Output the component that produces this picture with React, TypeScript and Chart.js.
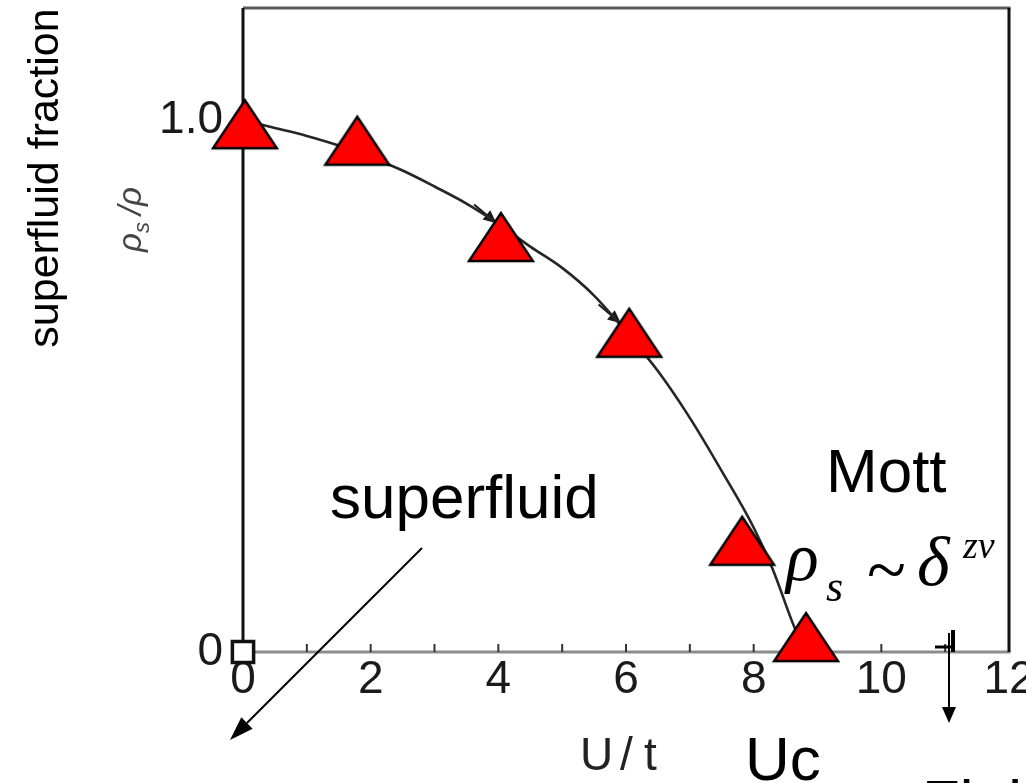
import React, { useEffect, useRef } from 'react';
import { Chart, registerables } from 'chart.js';

Chart.register(...registerables);

// U/t axis ticks and labels
const uTicks = [0, 1, 2, 3, 4, 5, 6, 7, 8, 9, 10, 11, 12];
const uTickLabels = ['0', '', '2', '', '4', '', '6', '', '8', '', '10', '', '12'];

// rho_s/rho axis ticks and labels
const rhoTicks = [0, 1];
const rhoTickLabels = ['0', '1.0'];

// Continuous curve of the superfluid fraction versus U/t
const curveU = [0, 0.5, 1, 1.5, 2, 2.5, 3, 3.5, 4, 4.5, 5, 5.5, 6, 6.5, 7, 7.5, 8, 8.3, 8.6, 8.8];
const curveRho = [1.0, 0.985, 0.97, 0.952, 0.93, 0.905, 0.875, 0.843, 0.805, 0.762, 0.722, 0.67, 0.602, 0.528, 0.44, 0.34, 0.234, 0.155, 0.058, 0.0];

// Red triangle markers
const markerU = [0.03, 1.79, 4.04, 6.05, 7.82, 8.82];
const markerRho = [0.992, 0.961, 0.78, 0.6, 0.209, 0.028];

// Open square at the origin
const originU = [0];
const originRho = [0];

// Small direction arrowheads drawn on the curve
const flowU = [3.97, 5.92];
const flowRho = [0.806, 0.618];

const TICK_FONT = { family: '"Liberation Sans", Arial, sans-serif', size: 46 };

function makeTriangle(w: number, h: number): HTMLCanvasElement {
  const pad = 3;
  const c = document.createElement('canvas');
  c.width = w + pad * 2;
  c.height = h + pad * 2;
  const g = c.getContext('2d') as CanvasRenderingContext2D;
  g.beginPath();
  g.moveTo(pad + w / 2, pad);
  g.lineTo(pad + w, pad + h);
  g.lineTo(pad, pad + h);
  g.closePath();
  g.fillStyle = '#ff0000';
  g.fill();
  g.lineWidth = 2.4;
  g.lineJoin = 'miter';
  g.strokeStyle = '#000';
  g.stroke();
  return c;
}

function arrow(ctx: CanvasRenderingContext2D, x0: number, y0: number, x1: number, y1: number, len: number, half: number) {
  const ang = Math.atan2(y1 - y0, x1 - x0);
  const bx = x1 - Math.cos(ang) * len;
  const by = y1 - Math.sin(ang) * len;
  ctx.beginPath();
  ctx.moveTo(x0, y0);
  ctx.lineTo(bx, by);
  ctx.stroke();
  ctx.beginPath();
  ctx.moveTo(x1, y1);
  ctx.lineTo(bx + Math.sin(ang) * half, by - Math.cos(ang) * half);
  ctx.lineTo(bx - Math.sin(ang) * half, by + Math.cos(ang) * half);
  ctx.closePath();
  ctx.fill();
}

const framePlugin = {
  id: 'frame',
  beforeDatasetsDraw(chart: any) {
    const { ctx, chartArea: a } = chart;
    const x = chart.scales.x;
    const y = chart.scales.y;
    const seg = (x0: number, y0: number, x1: number, y1: number) => {
      ctx.beginPath();
      ctx.moveTo(x0, y0);
      ctx.lineTo(x1, y1);
      ctx.stroke();
    };
    ctx.save();
    ctx.lineWidth = 3;
    ctx.strokeStyle = '#5a5a5a';
    seg(a.left, a.top, a.right + 1.5, a.top);
    ctx.strokeStyle = '#8c8c8c';
    seg(a.left, a.bottom, a.right + 1.5, a.bottom);
    ctx.strokeStyle = '#111';
    seg(a.left, a.top, a.left, a.bottom);
    seg(a.right, a.top, a.right, a.bottom);
    // small inward tick marks
    ctx.lineWidth = 2;
    ctx.strokeStyle = '#333';
    uTicks.forEach((v) => {
      if (v > 0 && v < 12) {
        const px = x.getPixelForValue(v);
        seg(px, a.bottom, px, a.bottom - 8);
      }
    });
    // direction arrowheads along the curve
    ctx.fillStyle = '#1a1a1a';
    ctx.strokeStyle = '#1a1a1a';
    ctx.lineWidth = 2;
    flowU.forEach((u, i) => {
      const tx = x.getPixelForValue(u);
      const ty = y.getPixelForValue(flowRho[i]);
      const sx = x.getPixelForValue(u - 0.35);
      const sy = y.getPixelForValue(flowRho[i] + 0.035);
      arrow(ctx, sx, sy, tx, ty, 13, 6);
    });
    ctx.restore();
  },
  afterDraw(chart: any) {
    const { ctx } = chart;
    ctx.save();
    ctx.fillStyle = '#000';
    ctx.textAlign = 'left';
    ctx.textBaseline = 'alphabetic';

    // outer vertical title
    ctx.save();
    ctx.translate(58, 178);
    ctx.rotate(-Math.PI / 2);
    ctx.textAlign = 'center';
    ctx.font = '43px "Liberation Sans", Arial, sans-serif';
    ctx.fillText('superfluid fraction', 0, 0);
    ctx.restore();

    // inner axis title rho_s / rho
    ctx.save();
    ctx.translate(141, 252);
    ctx.rotate(-Math.PI / 2);
    ctx.fillStyle = '#444';
    ctx.font = 'italic 33px "Liberation Sans", Arial, sans-serif';
    ctx.fillText('ρ', 0, 0);
    let w = ctx.measureText('ρ').width;
    ctx.font = 'italic 22px "Liberation Sans", Arial, sans-serif';
    ctx.fillText('s', w, 8);
    w += ctx.measureText('s').width + 7;
    ctx.font = 'italic 33px "Liberation Sans", Arial, sans-serif';
    ctx.fillText('/ρ', w, 0);
    ctx.restore();

    // x axis title
    ctx.save();
    ctx.fillStyle = '#222';
    ctx.font = '46px "Liberation Sans", Arial, sans-serif';
    ctx.fillText('U', 580, 770);
    ctx.fillText('/', 620, 770);
    ctx.fillText('t', 644, 770);
    ctx.restore();

    ctx.font = '62px "Liberation Sans", Arial, sans-serif';
    ctx.fillText('superfluid', 330, 518);
    ctx.fillText('Mott', 826, 492);
    ctx.fillText('Uc', 745, 780);
    ctx.fillText('Finite', 922, 823);

    // rho_s ~ delta^{z nu}
    const serif = '"Liberation Serif", "Times New Roman", serif';
    ctx.font = `italic 68px ${serif}`;
    ctx.fillText('ρ', 786, 580);
    ctx.font = `italic 44px ${serif}`;
    ctx.fillText('s', 826, 601);
    ctx.font = `72px ${serif}`;
    ctx.fillText('~', 867, 594);
    ctx.font = `italic 70px ${serif}`;
    ctx.fillText('δ', 917, 585);
    ctx.font = `italic 38px ${serif}`;
    ctx.fillText('zν', 963, 558);

    // arrows
    ctx.strokeStyle = '#000';
    ctx.lineWidth = 2;
    arrow(ctx, 422, 548, 230, 740, 24, 8);
    arrow(ctx, 949, 633, 949, 723, 16, 7);
    ctx.lineWidth = 4;
    ctx.beginPath();
    ctx.moveTo(953, 630);
    ctx.lineTo(953, 652);
    ctx.stroke();
    ctx.lineWidth = 3;
    ctx.beginPath();
    ctx.moveTo(935, 647);
    ctx.lineTo(953, 647);
    ctx.stroke();
    ctx.restore();
  },
};

export default function App() {
  const ref = useRef<HTMLCanvasElement | null>(null);

  useEffect(() => {
    document.body.style.margin = '0';
    const canvas = ref.current;
    if (!canvas) return;
    const tri = makeTriangle(64, 48);
    const chart = new Chart(canvas, {
      type: 'line',
      data: {
        datasets: [
          {
            label: 'markers',
            data: markerU.map((u, i) => ({ x: u, y: markerRho[i] })),
            showLine: false,
            pointStyle: tri as any,
            pointRadius: 30,
            order: 0,
          },
          {
            label: 'origin',
            data: originU.map((u, i) => ({ x: u, y: originRho[i] })),
            showLine: false,
            pointStyle: 'rect',
            pointRadius: 15,
            borderWidth: 3.5,
            borderColor: '#111',
            backgroundColor: '#fff',
            order: 1,
          },
          {
            label: 'curve',
            data: curveU.map((u, i) => ({ x: u, y: curveRho[i] })),
            borderColor: '#262626',
            borderWidth: 2.6,
            pointRadius: 0,
            fill: false,
            cubicInterpolationMode: 'monotone',
            order: 2,
          },
        ],
      },
      options: {
        animation: false,
        responsive: false,
        maintainAspectRatio: false,
        clip: false as any,
        layout: { autoPadding: false, padding: { top: 8, right: 17, left: 0, bottom: 0 } },
        plugins: { legend: { display: false }, tooltip: { enabled: false } },
        scales: {
          x: {
            type: 'linear',
            min: 0,
            max: 12,
            afterBuildTicks: (s: any) => {
              s.ticks = uTicks.map((v) => ({ value: v }));
            },
            afterFit: (s: any) => {
              s.height = 131;
              s.paddingLeft = 0;
              s.paddingRight = 0;
            },
            ticks: {
              autoSkip: false,
              maxRotation: 0,
              padding: 1,
              color: '#1a1a1a',
              font: TICK_FONT,
              callback: (_v: any, i: number) => uTickLabels[i],
            },
            grid: { display: false, drawTicks: false },
            border: { display: false },
          },
          y: {
            type: 'linear',
            min: 0,
            max: 1.2105,
            afterBuildTicks: (s: any) => {
              s.ticks = rhoTicks.map((v) => ({ value: v }));
            },
            afterFit: (s: any) => {
              s.width = 243;
              s.paddingTop = 0;
              s.paddingBottom = 0;
            },
            ticks: {
              padding: 20,
              color: '#1a1a1a',
              font: TICK_FONT,
              callback: (_v: any, i: number) => rhoTickLabels[i],
            },
            grid: { display: false, drawTicks: false },
            border: { display: false },
          },
        },
      },
      plugins: [framePlugin],
    });
    return () => chart.destroy();
  }, []);

  return (
    <div style={{ width: 1026, height: 783, background: '#fff', overflow: 'hidden' }}>
      <canvas ref={ref} width={1026} height={783} style={{ display: 'block' }} />
    </div>
  );
}
